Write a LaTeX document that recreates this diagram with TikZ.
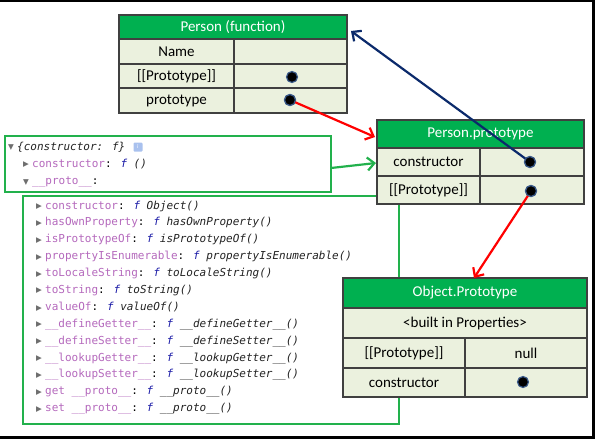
\documentclass[tikz,border=0pt]{standalone}
\usepackage{fontspec}
\setmainfont{Carlito}
\newfontfamily\codefont{DejaVu Sans Mono}
\newfontfamily\symfont{DejaVu Sans}
\usetikzlibrary{arrows.meta}
\definecolor{hdr}{HTML}{00B050}
\definecolor{rowc}{HTML}{EBF1DE}
\definecolor{bord}{HTML}{404040}
\definecolor{boxg}{HTML}{22B14C}
\definecolor{navy}{HTML}{0B2A6B}
\definecolor{propc}{HTML}{B468BC}
\definecolor{fc}{HTML}{1A1AA6}
\definecolor{fnc}{HTML}{222222}
\definecolor{tric}{HTML}{6E6E6E}
\definecolor{badge}{HTML}{A9C1EE}
\definecolor{dotring}{HTML}{3A5A8A}
\newcommand\pn[1]{\textcolor{propc}{#1}}
\newcommand\ff{\textcolor{fc}{\itshape f}}
\newcommand\fn[1]{\textcolor{fnc}{\itshape #1}}
\newcommand\trir{\makebox[9pt][l]{\raisebox{0.5pt}{\textcolor{tric}{\symfont\fontsize{7.5}{7.5}\selectfont ▶}}}}
\newcommand\trid{\makebox[9pt][l]{\raisebox{0.5pt}{\textcolor{tric}{\symfont\fontsize{7.5}{7.5}\selectfont ▼}}}}
\newcommand\tcell[7]{\node[#1, anchor=north west, minimum width={(#5-#3)*1pt}, minimum height={(#6-#4)*1pt}] (#2) at (#3,#4) {#7};}
\begin{document}
\begin{tikzpicture}[x=1pt,y=-1pt,
  hcell/.style={draw=bord, line width=1.2pt, fill=hdr, text=white, inner sep=0pt, outer sep=0pt, font=\fontsize{15}{15}\selectfont},
  rcell/.style={draw=bord, line width=1.2pt, fill=rowc, text=black, inner sep=0pt, outer sep=0pt, font=\fontsize{15}{15}\selectfont},
  gbox/.style={draw=boxg, line width=2.5pt, inner sep=0pt, outer sep=0pt, anchor=north west},
  codeline/.style={anchor=west, inner sep=0pt, font=\codefont\fontsize{11}{11}\selectfont},
  dot/.style={circle, fill=black, draw=dotring, line width=1.2pt, minimum size=11pt, inner sep=0pt},
  redarr/.style={draw=red, line width=2.2pt, -{Straight Barb[length=7pt,width=13pt,line width=2.2pt]}},
  bluearr/.style={draw=navy, line width=2.2pt, -{Straight Barb[length=7pt,width=13pt,line width=2.2pt]}},
  greenarr/.style={draw=boxg, line width=2.2pt, -{Straight Barb[length=7pt,width=13pt,line width=2.2pt]}}
]
\useasboundingbox (0,0) rectangle (595,439);
\begin{scope}
\clip (0,0) rectangle (595,439);
\node[draw=black, line width=3pt, anchor=north west, minimum width=595pt, minimum height=437pt, inner sep=0pt, outer sep=0pt] (frame) at (-1.5,0.5) {};
\end{scope}

% green boxes
\node[gbox, minimum width=376pt, minimum height=228pt] (box2) at (23,196) {};
\node[gbox, minimum width=326pt, minimum height=56pt] (box1) at (5,136) {};

% box 1 content
\node[codeline] (b1l1) at (8,147) {\trid\fn{\{constructor: f\}}};
\node[fill=badge, rounded corners=1pt, minimum size=9pt, inner sep=0pt, text=white, font=\sffamily\fontsize{6}{6}\selectfont] (badge) at (138,147) {i};
\node[codeline] (b1l2) at (23,164) {\trir\pn{constructor}: \ff{} \fn{()}};
\node[codeline] (b1l3) at (23,182) {\trid\pn{\_\_proto\_\_}:};

% box 2 content
\node[codeline] (c1) at (36,206.0) {\trir\pn{constructor}: \ff{} \fn{Object()}};
\node[codeline] (c2) at (36,222.9) {\trir\pn{hasOwnProperty}: \ff{} \fn{hasOwnProperty()}};
\node[codeline] (c3) at (36,239.8) {\trir\pn{isPrototypeOf}: \ff{} \fn{isPrototypeOf()}};
\node[codeline] (c4) at (36,256.7) {\trir\pn{propertyIsEnumerable}: \ff{} \fn{propertyIsEnumerable()}};
\node[codeline] (c5) at (36,273.6) {\trir\pn{toLocaleString}: \ff{} \fn{toLocaleString()}};
\node[codeline] (c6) at (36,290.5) {\trir\pn{toString}: \ff{} \fn{toString()}};
\node[codeline] (c7) at (36,307.4) {\trir\pn{valueOf}: \ff{} \fn{valueOf()}};
\node[codeline] (c8) at (36,324.3) {\trir\pn{\_\_defineGetter\_\_}: \ff{} \fn{\_\_defineGetter\_\_()}};
\node[codeline] (c9) at (36,341.2) {\trir\pn{\_\_defineSetter\_\_}: \ff{} \fn{\_\_defineSetter\_\_()}};
\node[codeline] (c10) at (36,358.1) {\trir\pn{\_\_lookupGetter\_\_}: \ff{} \fn{\_\_lookupGetter\_\_()}};
\node[codeline] (c11) at (36,375.0) {\trir\pn{\_\_lookupSetter\_\_}: \ff{} \fn{\_\_lookupSetter\_\_()}};
\node[codeline] (c12) at (36,391.9) {\trir\pn{get \_\_proto\_\_}: \ff{} \fn{\_\_proto\_\_()}};
\node[codeline] (c13) at (36,408.8) {\trir\pn{set \_\_proto\_\_}: \ff{} \fn{\_\_proto\_\_()}};

% Person (function)
\tcell{hcell}{pfh}{119}{15}{347}{39}{Person (function)}
\tcell{rcell}{pf1l}{119}{39}{234}{64}{Name}
\tcell{rcell}{pf1r}{234}{39}{347}{64}{}
\tcell{rcell}{pf2l}{119}{64}{234}{88}{[[Prototype]]}
\tcell{rcell}{pf2r}{234}{64}{347}{88}{}
\tcell{rcell}{pf3l}{119}{88}{234}{113}{prototype}
\tcell{rcell}{pf3r}{234}{88}{347}{113}{}
\node[dot] (pfdot2) at (292,77) {};
\node[dot] (pfdot3) at (290,100) {};

% Person.prototype
\tcell{hcell}{pph}{377}{120}{584}{148}{Person.prototype}
\tcell{rcell}{pp1l}{377}{148}{480}{176}{constructor}
\tcell{rcell}{pp1r}{480}{148}{584}{176}{}
\tcell{rcell}{pp2l}{377}{176}{480}{204}{[[Prototype]]}
\tcell{rcell}{pp2r}{480}{176}{584}{204}{}
\node[dot] (ppdot1) at (530,162) {};
\node[dot] (ppdot2) at (531,191) {};

% Object.Prototype
\tcell{hcell}{oph}{343}{278}{587}{308}{Object.Prototype}
\tcell{rcell}{op1}{343}{308}{587}{338}{<built in Properties>}
\tcell{rcell}{op2l}{343}{338}{465}{368}{[[Prototype]]}
\tcell{rcell}{op2r}{465}{338}{587}{368}{null}
\tcell{rcell}{op3l}{343}{368}{465}{397}{constructor}
\tcell{rcell}{op3r}{465}{368}{587}{397}{}
\node[dot] (opdot) at (523,382) {};

% arrows
\coordinate (bluetip) at (351,31);
\coordinate (red1tip) at (375,137);
\coordinate (red2tip) at (474,278);
\coordinate (greentail) at (331,168);
\coordinate (greentip) at (376,163);
\draw[bluearr] (ppdot1.center) -- (bluetip);
\draw[redarr] (pfdot3.center) -- (red1tip);
\draw[redarr] (ppdot2.center) -- (red2tip);
\draw[greenarr] (greentail) -- (greentip);
\node[dot] at (ppdot1) (ppdot1b) {};
\node[dot] at (pfdot3) (pfdot3b) {};
\node[dot] at (ppdot2) (ppdot2b) {};
\end{tikzpicture}
\end{document}
